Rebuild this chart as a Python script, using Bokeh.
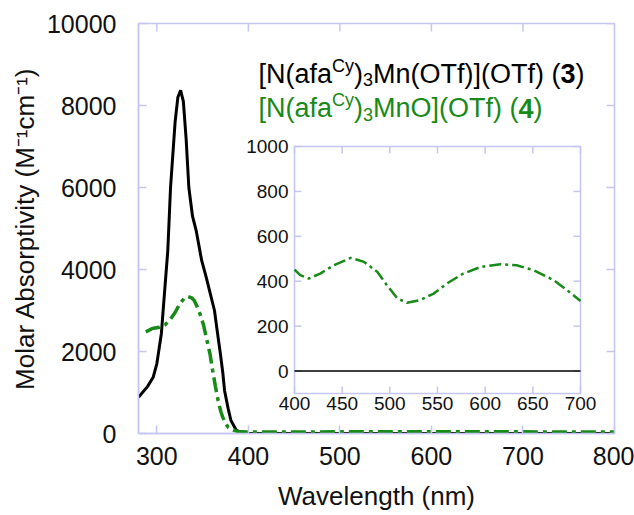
import math
from bokeh.plotting import figure
from bokeh.models import SingleIntervalTicker, Label, Range1d, BoxAnnotation, ColumnDataSource
from bokeh.core.properties import value
from bokeh.embed import file_html
from bokeh.resources import INLINE

# ---------------- data ----------------
# compound 3 (black), main panel
wl_3 = [280, 290, 296, 300, 305, 309, 312, 315, 320, 323, 326, 329, 332, 335, 339, 343,
        349, 354, 358, 363, 366, 369, 372, 374, 378, 381, 387, 395, 400, 500, 600, 700, 800]
eps_3 = [885, 1150, 1370, 1700, 2440, 3600, 4460, 6000, 7600, 8200, 8370, 8100, 7200, 6000,
         5300, 4950, 4220, 3810, 3450, 3000, 2500, 2020, 1500, 1050, 600, 317, 73, 10, 0,
         0, 0, 0, 0]
# compound 4 (green), main panel
wl_4 = [288, 295, 303, 309, 314, 320, 325, 330, 334, 338, 341, 344, 347, 351, 354, 358,
        361, 364, 367, 370, 372, 375, 378, 385, 391, 400, 500, 600, 700, 800]
eps_4 = [2480, 2560, 2590, 2650, 2760, 2950, 3160, 3300, 3340, 3310, 3240, 3100, 2930,
         2650, 2350, 1950, 1540, 1150, 800, 530, 400, 250, 150, 70, 40, 35, 40, 45, 40, 35]
# inset
wl_3_inset = [400, 500, 600, 700]
eps_3_inset = [0, 0, 0, 0]
wl_4_inset = [400, 406, 415, 427, 441, 459, 473, 487, 497, 508, 518, 532, 546, 560, 577,
              595, 616, 633, 651, 672, 686, 700]
eps_4_inset = [452, 427, 412, 434, 471, 504, 486, 441, 382, 323, 304, 316, 345, 390, 434,
               463, 476, 471, 449, 404, 360, 312]

main_xticks = [300, 400, 500, 600, 700, 800]
main_yticks = [0, 2000, 4000, 6000, 8000, 10000]
inset_xticks = [400, 450, 500, 550, 600, 650, 700]
inset_yticks = [0, 200, 400, 600, 800, 1000]

FRAME = "#c6c6f2"
GREEN = "#178a17"
FONT = "Liberation Sans"
TXT = "#111111"

# ---------------- main figure ----------------
p = figure(width=634, height=514, x_range=(280, 800), y_range=(0, 10000),
           output_backend="svg", toolbar_location=None,
           min_border_left=138, min_border_right=20, min_border_top=23,
           min_border_bottom=81)
p.grid.visible = False
p.outline_line_color = FRAME
p.outline_line_width = 1.5
p.background_fill_color = "white"
p.border_fill_color = "white"

p.xaxis.ticker = SingleIntervalTicker(interval=100)
p.yaxis.ticker = SingleIntervalTicker(interval=2000)
for ax, standoff, lab_standoff in ((p.xaxis[0], 9, 13), (p.yaxis[0], 18, 4)):
    ax.axis_line_color = FRAME
    ax.axis_line_width = 1.5
    ax.major_tick_line_color = FRAME
    ax.major_tick_line_width = 1.5
    ax.major_tick_out = 0
    ax.major_tick_in = 8
    ax.minor_tick_line_color = None
    ax.major_label_text_font = FONT
    ax.major_label_text_font_size = "25px"
    ax.major_label_text_color = TXT
    ax.major_label_standoff = standoff
    ax.axis_label_text_font = FONT
    ax.axis_label_text_font_size = "26px"
    ax.axis_label_text_font_style = "normal"
    ax.axis_label_text_color = TXT
    ax.axis_label_standoff = lab_standoff
p.xaxis.axis_label = "Wavelength (nm)"
p.yaxis.axis_label = "Molar Absorptivity (M\u207b\u00b9cm\u207b\u00b9)"

# ticks on top and right edges (inward)
p.ray(x=main_xticks, y=[10000] * len(main_xticks), length=8, length_units="screen",
      angle=-math.pi / 2, line_color=FRAME, line_width=1.5)
p.ray(x=[800] * len(main_yticks), y=main_yticks, length=8, length_units="screen",
      angle=math.pi, line_color=FRAME, line_width=1.5)

p.line(wl_3, eps_3, line_color="black", line_width=3)
p.line(wl_4, eps_4, line_color=GREEN, line_width=3.5, line_dash="15 5 4 5")

# legend-like labels built from pieces (super/subscripts)
W = {"[": 278, "]": 278, "N": 722, "(": 333, ")": 333, "a": 556, "f": 278, "C": 722,
     "y": 500, "M": 833, "n": 556, "O": 778, "T": 611, " ": 278, "3": 556, "4": 556}


def widths(s):
    return sum(W.get(c, 556) for c in s)


def add_line(fig, x, y, pieces, color):
    off = 0.0
    for txt, size, dy, bold in pieces:
        fig.add_layout(Label(x=x, y=y, x_offset=off, y_offset=dy, text=txt,
                             text_font=FONT, text_font_size=f"{size}px",
                             text_color=color, text_baseline="alphabetic",
                             text_font_style="bold" if bold else "normal"))
        off += widths(txt) * size / 1000.0


line1 = [("[N(afa", 27, 0, False), ("Cy", 18, 8, False), (")", 27, 0, False),
         ("3", 18, -6, False), ("Mn(OTf)](OTf) (", 27, 0, False), ("3", 27, 0, True),
         (")", 27, 0, False)]
line2 = [("[N(afa", 27, 0, False), ("Cy", 18, 8, False), (")", 27, 0, False),
         ("3", 18, -6, False), ("MnO](OTf) (", 27, 0, False), ("4", 27, 0, True),
         (")", 27, 0, False)]
add_line(p, 411, 8780, line1, "black")
add_line(p, 411, 7930, line2, GREEN)

# ---------------- inset (drawn on its own ranges inside the same frame) ----------------
p.extra_x_ranges = {"ins": Range1d(236.36, 735.66)}
p.extra_y_ranges = {"ins": Range1d(-278.14, 1547.77)}

p.add_layout(BoxAnnotation(left=400, right=700, bottom=-100, top=1000,
                           x_range_name="ins", y_range_name="ins",
                           fill_color="white", fill_alpha=1.0,
                           line_color=FRAME, line_width=1.5, line_alpha=1.0))

ov = dict(x_range_name="ins", y_range_name="ins", level="overlay")
n_x = len(inset_xticks)
n_y = len(inset_yticks)
p.ray(x=inset_xticks, y=[-100] * n_x, length=7, length_units="screen",
      angle=math.pi / 2, line_color=FRAME, line_width=1.5, **ov)
p.ray(x=inset_xticks, y=[1000] * n_x, length=7, length_units="screen",
      angle=-math.pi / 2, line_color=FRAME, line_width=1.5, **ov)
p.ray(x=[400] * n_y, y=inset_yticks, length=7, length_units="screen",
      angle=0, line_color=FRAME, line_width=1.5, **ov)
p.ray(x=[700] * n_y, y=inset_yticks, length=7, length_units="screen",
      angle=math.pi, line_color=FRAME, line_width=1.5, **ov)

xsrc = ColumnDataSource(dict(x=inset_xticks, y=[-100] * n_x,
                             t=[str(v) for v in inset_xticks]))
ysrc = ColumnDataSource(dict(x=[400] * n_y, y=inset_yticks,
                             t=[str(v) for v in inset_yticks]))
p.text(x="x", y="y", text="t", source=xsrc, text_font=value(FONT),
       text_font_size="19px", text_color=TXT, text_align="center",
       text_baseline="top", y_offset=4, **ov)
p.text(x="x", y="y", text="t", source=ysrc, text_font=value(FONT),
       text_font_size="19px", text_color=TXT, text_align="right",
       text_baseline="middle", x_offset=-6, **ov)

p.line(wl_3_inset, eps_3_inset, line_color="black", line_width=1.6, **ov)
p.line(wl_4_inset, eps_4_inset, line_color=GREEN, line_width=2.5,
       line_dash="12 4 3 4", **ov)

open("out.html", "w").write(file_html(p, INLINE))
